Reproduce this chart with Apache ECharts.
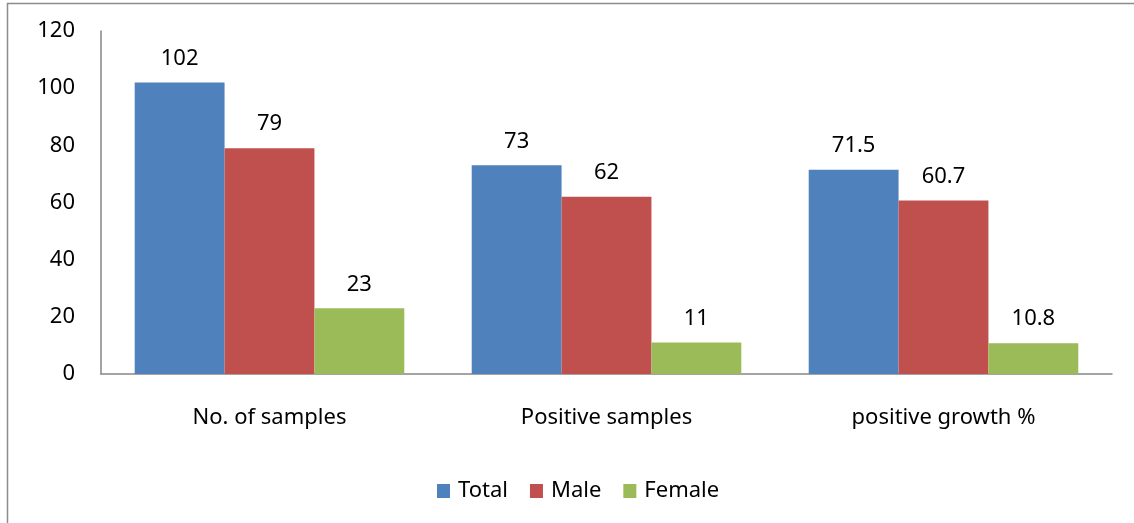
<!DOCTYPE html>
<html><head><meta charset="utf-8">
<script src="https://cdn.jsdelivr.net/npm/echarts@6/dist/echarts.min.js"></script>
<style>html,body{margin:0;padding:0;background:#fff}#c{width:1134px;height:523px}</style>
</head><body><div id="c"></div>
<script>
const categories = ['No. of samples', 'Positive samples', 'positive growth %'];
const totalValues = [102, 73, 71.5];
const maleValues = [79, 62, 60.7];
const femaleValues = [23, 11, 10.8];
const seriesNames = ['Total', 'Male', 'Female'];
const colors = ['#4F81BD', '#C0504D', '#9BBB59'];
const FONT = 'Noto Sans, sans-serif';

const chart = echarts.init(document.getElementById('c'));
const mk = (name, data, color) => ({
  name, type: 'bar', data, barGap: '0%', barCategoryGap: '20%',
  itemStyle: { color },
  label: { show: true, position: 'top', distance: 13, color: '#000', fontSize: 22, fontFamily: FONT },
  emphasis: { disabled: true }
});
chart.setOption({
  animation: false,
  textStyle: { fontFamily: FONT },
  graphic: [{ type: 'rect', shape: { x: 7.5, y: 3.5, width: 1300, height: 700 }, style: { fill: 'none', stroke: '#8c8c8c', lineWidth: 1.5 }, silent: true }],
  grid: { left: 101, top: 31, right: 22, bottom: 149, containLabel: false },
  legend: {
    data: seriesNames, top: 475, left: 432, itemWidth: 13, itemHeight: 14, itemGap: 22,
    icon: 'rect', textStyle: { fontSize: 22, fontFamily: FONT, color: '#000', padding: [0, 0, 0, 3] }
  },
  xAxis: {
    type: 'category', data: categories,
    axisLine: { lineStyle: { color: '#868686', width: 1.5 } },
    axisTick: { show: false },
    axisLabel: { color: '#000', fontSize: 22, fontFamily: FONT, margin: 33 }
  },
  yAxis: {
    type: 'value', min: 0, max: 120, interval: 20,
    axisLine: { show: true, lineStyle: { color: '#868686', width: 1.5 } },
    axisTick: { show: false },
    splitLine: { show: false },
    axisLabel: { color: '#000', fontSize: 22, fontFamily: FONT, margin: 26, padding: [5, 0, 0, 0] }
  },
  series: [mk(seriesNames[0], totalValues, colors[0]), mk(seriesNames[1], maleValues, colors[1]), mk(seriesNames[2], femaleValues, colors[2])]
});
</script></body></html>
